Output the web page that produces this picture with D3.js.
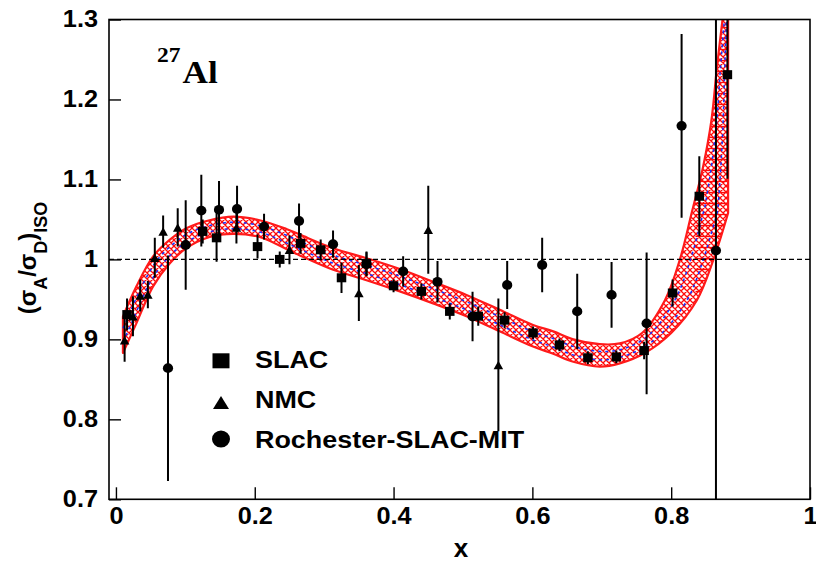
<!DOCTYPE html>
<html>
<head>
<meta charset="utf-8">
<script src="https://cdn.jsdelivr.net/npm/d3@7"></script>
<style>
  html, body { margin: 0; padding: 0; background: #fff; }
  svg { display: block; }
</style>
</head>
<body>
<svg id="chart" width="816" height="562"></svg>
<script>
// ---------------- data ----------------
// SLAC (squares)
const slacX   = [0.016, 0.125, 0.145, 0.204, 0.236, 0.266, 0.295, 0.325, 0.361, 0.400, 0.440, 0.481, 0.522, 0.560, 0.601, 0.639, 0.680, 0.721, 0.761, 0.802, 0.8405, 0.881];
const slacY   = [0.931, 1.035, 1.027, 1.016, 1.000, 1.020, 1.012, 0.977, 0.995, 0.967, 0.960, 0.935, 0.929, 0.924, 0.908, 0.893, 0.877, 0.878, 0.886, 0.958, 1.079, 1.231];
const slacErr = [0.020, 0.015, 0.030, 0.015, 0.010, 0.013, 0.013, 0.019, 0.015, 0.008, 0.010, 0.010, 0.012, 0.010, 0.008, 0.008, 0.008, 0.008, 0.011, 0.017, 0.050, 0.130];

// NMC (triangles)
const nmcX   = [0.0125, 0.0245, 0.035, 0.046, 0.056, 0.068, 0.089, 0.1736, 0.250, 0.350, 0.450, 0.551];
const nmcY   = [0.899, 0.929, 0.955, 0.956, 1.002, 1.035, 1.040, 1.040, 1.012, 0.958, 1.037, 0.868];
const nmcErr = [0.027, 0.025, 0.020, 0.017, 0.025, 0.020, 0.024, 0.020, 0.018, 0.035, 0.055, 0.083];

// Rochester-SLAC-MIT (circles)
const rsmX   = [0.075, 0.1005, 0.123, 0.1485, 0.1745, 0.2134, 0.2638, 0.3128, 0.361, 0.4138, 0.4633, 0.5138, 0.5637, 0.6141, 0.6646, 0.7141, 0.7646, 0.815, 0.8645];
const rsmY   = [0.864, 1.018, 1.061, 1.062, 1.063, 1.041, 1.048, 1.019, 0.994, 0.985, 0.972, 0.9285, 0.968, 0.993, 0.935, 0.9556, 0.920, 1.167, 1.011];
const rsmErr = [0.141, 0.056, 0.045, 0.036, 0.029, 0.016, 0.022, 0.017, 0.015, 0.019, 0.026, 0.031, 0.030, 0.034, 0.047, 0.041, 0.0886, 0.115, 0.35];

// Error band: upper and lower edges as [x, ratio]
const bandUpper = [[0.0101,0.9285],[0.0294,0.966],[0.0533,1.0035],[0.0774,1.0244],[0.1015,1.039],[0.135,1.049],[0.169,1.0535],[0.207,1.049],[0.2456,1.038],[0.265,1.031],[0.313,1.014],[0.361,1.0015],[0.409,0.988],[0.457,0.972],[0.505,0.9556],[0.553,0.937],[0.601,0.918],[0.630,0.910],[0.659,0.900],[0.697,0.894],[0.726,0.895],[0.758,0.908],[0.791,0.949],[0.8126,1.0],[0.8295,1.058],[0.846,1.116],[0.858,1.174],[0.866,1.241],[0.874,1.30],[0.882,1.36]];
const bandLower = [[0.0101,0.883],[0.0294,0.920],[0.0533,0.966],[0.0774,0.995],[0.1015,1.014],[0.135,1.028],[0.169,1.032],[0.207,1.028],[0.2456,1.013],[0.265,1.005],[0.313,0.987],[0.361,0.974],[0.409,0.960],[0.457,0.945],[0.505,0.929],[0.553,0.910],[0.601,0.891],[0.630,0.882],[0.659,0.872],[0.697,0.866],[0.726,0.870],[0.762,0.883],[0.800,0.908],[0.837,0.949],[0.861,1.0],[0.882,1.058]];
const bandEndTop = 1.36;

// Axis ticks and labels
const xTickValues = [0, 0.2, 0.4, 0.6, 0.8, 1.0];
const xTickLabels = ["0", "0.2", "0.4", "0.6", "0.8", "1"];
const yTickValues = [0.7, 0.8, 0.9, 1.0, 1.1, 1.2, 1.3];
const yTickLabels = ["0.7", "0.8", "0.9", "1", "1.1", "1.2", "1.3"];
const legendNames = ["SLAC", "NMC", "Rochester-SLAC-MIT"];
const referenceLevel = 1.0;

// ---------------- drawing ----------------
const svg = d3.select("#chart");
const W = 816, H = 562;
svg.append("rect").attr("width", W).attr("height", H).attr("fill", "#fff");

const plotLeft = 109, plotRight = 810, plotTop = 19.5, plotBottom = 499.3;
const x = d3.scaleLinear().domain([-0.01, 1.0]).range([plotLeft, plotRight]);
const y = d3.scaleLinear().domain([0.7, 1.3]).range([plotBottom, plotTop]);

const sansFont = "'Liberation Sans', Arial, Helvetica, sans-serif";
const serifFont = "'Liberation Serif', 'Times New Roman', serif";

function stretch(sel, k) {
  sel.each(function () {
    const w = this.getComputedTextLength();
    d3.select(this).attr("textLength", w * k).attr("lengthAdjust", "spacingAndGlyphs");
  });
}

const defs = svg.append("defs");
defs.append("clipPath").attr("id", "plotClip")
  .append("rect").attr("x", plotLeft).attr("y", plotTop)
  .attr("width", plotRight - plotLeft).attr("height", plotBottom - plotTop);

// cross hatch for the band
const hatch = defs.append("pattern").attr("id", "hatchX")
  .attr("patternUnits", "userSpaceOnUse").attr("width", 6).attr("height", 6);
hatch.append("path").attr("d", "M-1,-1 L7,7 M-1,5 L1,7 M5,-1 L7,1 M7,-1 L-1,7 M-1,1 L1,-1 M5,7 L7,5")
  .attr("stroke", "#ff0a0a").attr("stroke-width", 1.3).attr("fill", "none");
const hatchH = defs.append("pattern").attr("id", "hatchH")
  .attr("patternUnits", "userSpaceOnUse").attr("width", 8).attr("height", 11);
hatchH.append("path").attr("d", "M0,5.5 L8,5.5")
  .attr("stroke", "#ff0a0a").attr("stroke-width", 1.3);
defs.append("clipPath").attr("id", "highXClip")
  .append("rect").attr("x", x(0.835)).attr("y", plotTop)
  .attr("width", plotRight - x(0.835)).attr("height", plotBottom - plotTop);

const plot = svg.append("g").attr("clip-path", "url(#plotClip)");

// band outline path
const edge = d3.line().x(d => x(d[0])).y(d => y(d[1])).curve(d3.curveCatmullRom.alpha(0.5));
const upperPath = edge(bandUpper);
const lowerPath = edge(bandLower.slice().reverse());
const bandD = upperPath + "L" + lowerPath.slice(1) + "Z";

plot.append("path").attr("d", bandD).attr("fill", "#fff");
plot.append("path").attr("d", bandD).attr("fill", "url(#hatchX)");
plot.append("path").attr("d", bandD).attr("fill", "url(#hatchH)").attr("clip-path", "url(#highXClip)");
plot.append("path").attr("d", bandD).attr("fill", "none")
  .attr("stroke", "#ff1a1a").attr("stroke-width", 2.2).attr("stroke-linejoin", "round");

// inner dashed lines: sampled between the two band edges
function samplePath(d, n) {
  const p = svg.append("path").attr("d", d).attr("fill", "none");
  const node = p.node();
  const L = node.getTotalLength();
  const out = [];
  for (let i = 0; i <= n; i++) {
    const pt = node.getPointAtLength(L * i / n);
    out.push([pt.x, pt.y]);
  }
  p.remove();
  return out;
}
const upS = samplePath(edge(bandUpper), 900);
const loS = samplePath(edge(bandLower), 500);
// continue the lower side up the closing edge of the band
const lastLo = loS[loS.length - 1];
const edgeTop = y(bandEndTop);
for (let i = 1; i <= 40; i++) loS.push([lastLo[0], lastLo[1] + (edgeTop - lastLo[1]) * i / 40]);
const pairs = loS.map(p => {
  let best = upS[0], bd = Infinity;
  for (const q of upS) {
    const dd = (q[0] - p[0]) ** 2 + (q[1] - p[1]) ** 2;
    if (dd < bd) { bd = dd; best = q; }
  }
  return [p, best];
});
const innerLine = d3.line().curve(d3.curveLinear);
[0.3, 0.68].forEach(f => {
  const pts = pairs.map(([a, b]) => [a[0] + (b[0] - a[0]) * f, a[1] + (b[1] - a[1]) * f]);
  plot.append("path").attr("d", innerLine(pts)).attr("fill", "none")
    .attr("stroke", "#1530ff").attr("stroke-width", 1.5).attr("stroke-dasharray", "3,4");
});

// reference line at ratio = 1
plot.append("line")
  .attr("x1", plotLeft).attr("x2", plotRight)
  .attr("y1", y(referenceLevel)).attr("y2", y(referenceLevel))
  .attr("stroke", "#000").attr("stroke-width", 1.3).attr("stroke-dasharray", "5,3");

// data points with error bars
function series(xs, ys, es) { return xs.map((v, i) => ({ x: v, y: ys[i], e: es[i] })); }
const slac = series(slacX, slacY, slacErr);
const nmc = series(nmcX, nmcY, nmcErr);
const rsm = series(rsmX, rsmY, rsmErr);

const bars = plot.append("g");
[...slac, ...nmc, ...rsm].forEach(d => {
  bars.append("line")
    .attr("x1", x(d.x)).attr("x2", x(d.x))
    .attr("y1", y(d.y - d.e)).attr("y2", y(d.y + d.e))
    .attr("stroke", "#000").attr("stroke-width", 2);
});

const markerSize = { sq: 9.5, tri: 9.5, circ: 4.9 };
function drawSquare(g, cx, cy, w, h) {
  g.append("rect").attr("x", cx - w / 2).attr("y", cy - h / 2).attr("width", w).attr("height", h).attr("fill", "#000");
}
function drawTriangle(g, cx, cy, w, h) {
  g.append("path").attr("d", `M${cx - w / 2},${cy + h / 2} L${cx + w / 2},${cy + h / 2} L${cx},${cy - h / 2} Z`).attr("fill", "#000");
}
function drawCircle(g, cx, cy, rx, ry) {
  g.append("ellipse").attr("cx", cx).attr("cy", cy).attr("rx", rx).attr("ry", ry).attr("fill", "#000");
}
const marks = plot.append("g");
slac.forEach(d => drawSquare(marks, x(d.x), y(d.y), markerSize.sq, markerSize.sq - 0.5));
nmc.forEach(d => drawTriangle(marks, x(d.x), y(d.y), markerSize.tri, markerSize.tri - 1));
rsm.forEach(d => drawCircle(marks, x(d.x), y(d.y), markerSize.circ + 0.2, markerSize.circ));

// axes
const axisFont = 23;
const xAxisG = svg.append("g").attr("transform", `translate(0,${plotBottom})`);
xAxisG.call(d3.axisBottom(x).tickValues(d3.range(0, 1.0001, 0.05)).tickSize(-6).tickFormat(""));
xAxisG.call(d3.axisBottom(x).tickValues(xTickValues).tickSize(-12).tickPadding(8)
  .tickFormat((d, i) => xTickLabels[i]));
const yAxisG = svg.append("g").attr("transform", `translate(${plotLeft},0)`);
yAxisG.call(d3.axisLeft(y).tickValues(d3.range(0.7, 1.3001, 0.025)).tickSize(-6).tickFormat(""));
yAxisG.call(d3.axisLeft(y).tickValues(yTickValues).tickSize(-12).tickPadding(11)
  .tickFormat((d, i) => yTickLabels[i]));
[xAxisG, yAxisG].forEach(g => {
  g.selectAll(".domain").remove();
  g.selectAll(".tick line").attr("stroke", "#000").attr("stroke-width", 1.4);
  g.selectAll(".tick text").attr("font-family", sansFont).attr("font-weight", "bold")
    .attr("font-size", axisFont).attr("fill", "#000");
});
stretch(xAxisG.selectAll(".tick text").filter(function () { return this.textContent !== ""; }), 1.1);
stretch(yAxisG.selectAll(".tick text").filter(function () { return this.textContent !== ""; }), 1.1);

// frame
svg.append("rect").attr("x", plotLeft).attr("y", plotTop)
  .attr("width", plotRight - plotLeft).attr("height", plotBottom - plotTop)
  .attr("fill", "none").attr("stroke", "#000").attr("stroke-width", 1.6);

// axis titles
svg.append("text").attr("x", 461).attr("y", 556.5).attr("text-anchor", "middle")
  .attr("font-family", sansFont).attr("font-weight", "bold").attr("font-size", 26).attr("fill", "#000").text("x");

const yt = svg.append("text").attr("transform", "translate(36,258) rotate(-90)")
  .attr("text-anchor", "middle").attr("font-family", sansFont).attr("font-weight", "bold")
  .attr("font-size", 24).attr("fill", "#000");
const subShift = 11;
yt.append("tspan").text("(σ");
yt.append("tspan").attr("dy", subShift).attr("font-size", 18).text("A");
yt.append("tspan").attr("dy", -subShift).text("/σ");
yt.append("tspan").attr("dy", subShift).attr("font-size", 18).text("D");
yt.append("tspan").attr("dy", -subShift).text(")");
yt.append("tspan").attr("dy", subShift).attr("font-size", 18).text("ISO");

// nucleus label
const sup = svg.append("text").attr("x", 157).attr("y", 62).attr("font-family", serifFont)
  .attr("font-weight", "bold").attr("font-size", 21).attr("fill", "#000").text("27");
stretch(sup, 1.12);
const nuc = svg.append("text").attr("x", 182.5).attr("y", 83).attr("font-family", serifFont)
  .attr("font-weight", "bold").attr("font-size", 32).attr("fill", "#000").text("Al");
stretch(nuc, 1.1);

// legend
const legend = svg.append("g");
const legendBase = [368.3, 408.3, 448.3];
drawSquare(legend, 221, 360.8, 17, 15);
drawTriangle(legend, 221, 402.5, 16, 13);
drawCircle(legend, 221, 439, 9, 8.6);
legendNames.forEach((name, i) => {
  const t = legend.append("text").attr("x", 255).attr("y", legendBase[i])
    .attr("font-family", sansFont).attr("font-weight", "bold").attr("font-size", 23)
    .attr("fill", "#000").text(name);
  stretch(t, 1.17);
});
</script>
</body>
</html>
